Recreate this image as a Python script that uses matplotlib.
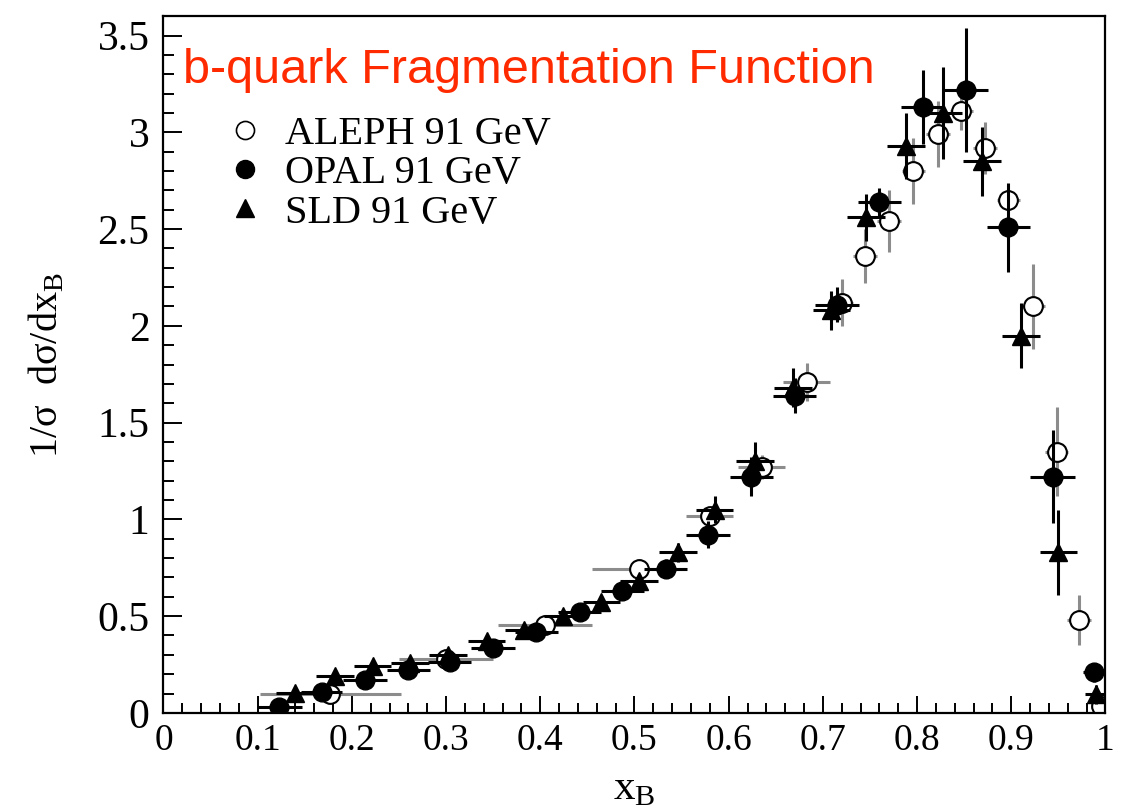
import matplotlib
matplotlib.use("Agg")
import matplotlib.pyplot as plt
from matplotlib.lines import Line2D
from matplotlib.ticker import MultipleLocator

plt.rcParams['font.family'] = ['Liberation Serif', 'DejaVu Serif']

# ALEPH 91 GeV (open circles, grey errors)
aleph_x = [0.177, 0.30, 0.405, 0.505, 0.58, 0.635, 0.683, 0.720, 0.745, 0.770,
           0.796, 0.822, 0.847, 0.872, 0.897, 0.923, 0.948, 0.972, 0.995]
aleph_y = [0.10, 0.28, 0.455, 0.745, 1.015, 1.27, 1.71, 2.12, 2.36, 2.54,
           2.80, 2.99, 3.11, 2.92, 2.65, 2.10, 1.35, 0.48, 0.035]
aleph_xerr = [0.075, 0.05, 0.05, 0.05, 0.025, 0.025, 0.025, 0.0125, 0.0125, 0.0125,
              0.0125, 0.0125, 0.0125, 0.0125, 0.0125, 0.0125, 0.0125, 0.0125, 0.005]
aleph_yerr = [0.02, 0.02, 0.02, 0.05, 0.05, 0.06, 0.10, 0.12, 0.14, 0.16,
              0.17, 0.17, 0.10, 0.135, 0.05, 0.22, 0.23, 0.13, 0.03]

# OPAL 91 GeV (filled circles)
opal_x = [0.123, 0.168, 0.214, 0.26, 0.304, 0.35, 0.396, 0.442, 0.487, 0.533,
          0.578, 0.624, 0.670, 0.715, 0.760, 0.806, 0.852, 0.897, 0.944, 0.988]
opal_y = [0.03, 0.11, 0.17, 0.22, 0.265, 0.337, 0.42, 0.52, 0.63, 0.745,
          0.92, 1.22, 1.64, 2.11, 2.64, 3.13, 3.22, 2.51, 1.22, 0.21]
opal_xerr = [0.024, 0.022, 0.023, 0.023, 0.023, 0.023, 0.023, 0.023, 0.023, 0.023,
             0.023, 0.023, 0.023, 0.023, 0.023, 0.023, 0.023, 0.023, 0.024, 0.012]
opal_yerr = [0.01, 0.02, 0.02, 0.02, 0.02, 0.02, 0.02, 0.03, 0.04, 0.05,
             0.07, 0.10, 0.09, 0.09, 0.07, 0.19, 0.32, 0.23, 0.24, 0.05]

# SLD 91 GeV (filled triangles)
sld_x = [0.14, 0.182, 0.222, 0.262, 0.302, 0.343, 0.383, 0.424, 0.465, 0.505, 0.546,
         0.585, 0.628, 0.668, 0.709, 0.746, 0.788, 0.828, 0.869, 0.910, 0.95, 0.99]
sld_y = [0.105, 0.19, 0.24, 0.26, 0.30, 0.37, 0.43, 0.50, 0.575, 0.68, 0.83,
         1.05, 1.30, 1.68, 2.08, 2.56, 2.93, 3.10, 2.85, 1.95, 0.83, 0.095]
sld_xerr = [0.02] * 21 + [0.012]
sld_yerr = [0.01, 0.02, 0.02, 0.02, 0.02, 0.02, 0.02, 0.02, 0.03, 0.04, 0.05,
            0.07, 0.10, 0.10, 0.10, 0.12, 0.17, 0.24, 0.18, 0.17, 0.22, 0.05]

fig = plt.figure(figsize=(11.35, 8.11), dpi=100)
ax = fig.add_axes([0.144, 0.121, 0.830, 0.859])

ax.errorbar(aleph_x, aleph_y, xerr=aleph_xerr, yerr=aleph_yerr, fmt='o',
            ms=13.5, mfc='white', mec='black', mew=1.5, ecolor='#8c8c8c',
            elinewidth=2.2, capsize=0, zorder=2)
ax.errorbar(opal_x, opal_y, xerr=opal_xerr, yerr=opal_yerr, fmt='o',
            ms=13.5, color='black', ecolor='black', elinewidth=2.2, capsize=0, zorder=3)
ax.errorbar(sld_x, sld_y, xerr=sld_xerr, yerr=sld_yerr, fmt='^',
            ms=13.5, color='black', ecolor='black', elinewidth=2.2, capsize=0, zorder=4)

ax.set_xlim(0, 1)
ax.set_ylim(0, 3.6)
ax.xaxis.set_minor_locator(MultipleLocator(0.02))
ax.yaxis.set_minor_locator(MultipleLocator(0.1))
ax.set_xticks([0, 0.1, 0.2, 0.3, 0.4, 0.5, 0.6, 0.7, 0.8, 0.9, 1])
ax.set_xticklabels(['0', '0.1', '0.2', '0.3', '0.4', '0.5', '0.6', '0.7', '0.8', '0.9', '1'])
ax.set_yticks([0, 0.5, 1, 1.5, 2, 2.5, 3, 3.5])
ax.set_yticklabels(['0', '0.5', '1', '1.5', '2', '2.5', '3', '3.5'])
ax.tick_params(axis='both', which='both', direction='in', top=False, right=False, width=1.4)
ax.tick_params(axis='y', which='major', length=14, pad=10, labelsize=30)
ax.tick_params(axis='y', which='minor', length=8)
ax.tick_params(axis='x', which='major', length=12, pad=8, labelsize=27)
ax.tick_params(axis='x', which='minor', length=7)
for s in ax.spines.values():
    s.set_linewidth(1.6)

ax.set_xlabel('x$_\\mathregular{B}$', fontsize=31, labelpad=8)
ax.set_ylabel('1/σ  dσ/dx$_\\mathregular{B}$', fontsize=29, labelpad=22)

ax.text(0.021, 0.922, 'b-quark Fragmentation Function', transform=ax.transAxes,
        color='#ff2a00', fontsize=35, family=['Liberation Sans', 'DejaVu Sans'],
        va='center', ha='left')

handles = [
    Line2D([], [], ls='none', marker='o', ms=13, mfc='white', mec='black', mew=1.2),
    Line2D([], [], ls='none', marker='o', ms=13, color='black'),
    Line2D([], [], ls='none', marker='^', ms=13, color='black'),
]
labels = ['ALEPH 91 GeV', 'OPAL 91 GeV', 'SLD 91 GeV']
ax.legend(handles, labels, loc='upper left', bbox_to_anchor=(0.052, 0.88),
          frameon=False, fontsize=29, handlelength=0.8, handletextpad=0.6,
          labelspacing=0.05, borderaxespad=0)

fig.savefig('out.png', dpi=100)
